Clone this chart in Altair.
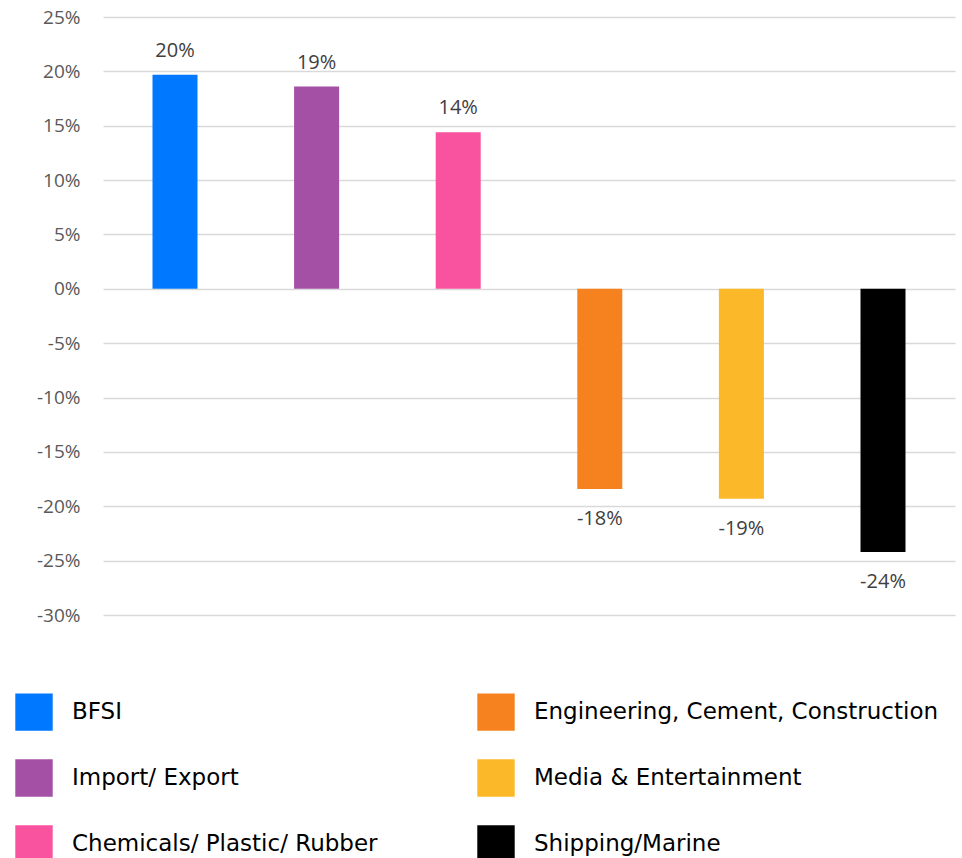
import altair as alt
import pandas as pd

categories = ["BFSI", "Import/ Export", "Chemicals/ Plastic/ Rubber",
              "Engineering, Cement, Construction", "Media & Entertainment", "Shipping/Marine"]
values = [19.7, 18.6, 14.4, -18.4, -19.3, -24.2]
colors = ["#0078FF", "#A450A4", "#F9529F", "#F5821F", "#FBB829", "#000000"]
y_ticks = [-30, -25, -20, -15, -10, -5, 0, 5, 10, 15, 20, 25]

df = pd.DataFrame({"cat": categories, "value": values})
df["label"] = [f"{v:.0f}%" for v in values]

color_scale = alt.Scale(domain=categories, range=colors)

base = alt.Chart(df).encode(
    x=alt.X("cat:N", sort=categories, axis=None,
            scale=alt.Scale(paddingInner=0.683, paddingOuter=0.35)),
    y=alt.Y("value:Q",
            scale=alt.Scale(domain=[-30, 25], nice=False, zero=True),
            axis=alt.Axis(values=y_ticks, labelExpr="datum.value + '%'", title=None,
                          domain=False, ticks=False, labelPadding=23,
                          labelFont="Open Sans", labelFontSize=19, labelColor="#595959",
                          gridColor="#D9D9D9", gridWidth=1.5)),
)

bars = base.mark_bar(size=45).encode(
    color=alt.Color("cat:N", scale=color_scale,
                    legend=alt.Legend(title=None, orient="none", legendX=-88, legendY=676,
                                      columns=2, symbolType="square", symbolSize=1400,
                                      symbolStrokeWidth=0, symbolOpacity=1,
                                      labelFont="DejaVu Sans", labelFontSize=23,
                                      labelColor="#000000", labelOffset=19,
                                      rowPadding=28, columnPadding=99, labelLimit=500))
)

pos_labels = base.transform_filter("datum.value >= 0").mark_text(
    baseline="alphabetic", dy=-18, font="Open Sans", fontSize=20, color="#404040"
).encode(text="label:N")

neg_labels = base.transform_filter("datum.value < 0").mark_text(
    baseline="alphabetic", dy=36, font="Open Sans", fontSize=20, color="#404040"
).encode(text="label:N")

chart = alt.layer(bars, pos_labels, neg_labels).properties(
    width=852, height=598,
    background="white",
    autosize=alt.AutoSizeParams(type="none"),
    padding={"left": 103, "top": 17, "right": 7, "bottom": 243},
).configure_view(stroke=None)

chart.save("out.html", embed_options={"renderer": "svg", "actions": False})
